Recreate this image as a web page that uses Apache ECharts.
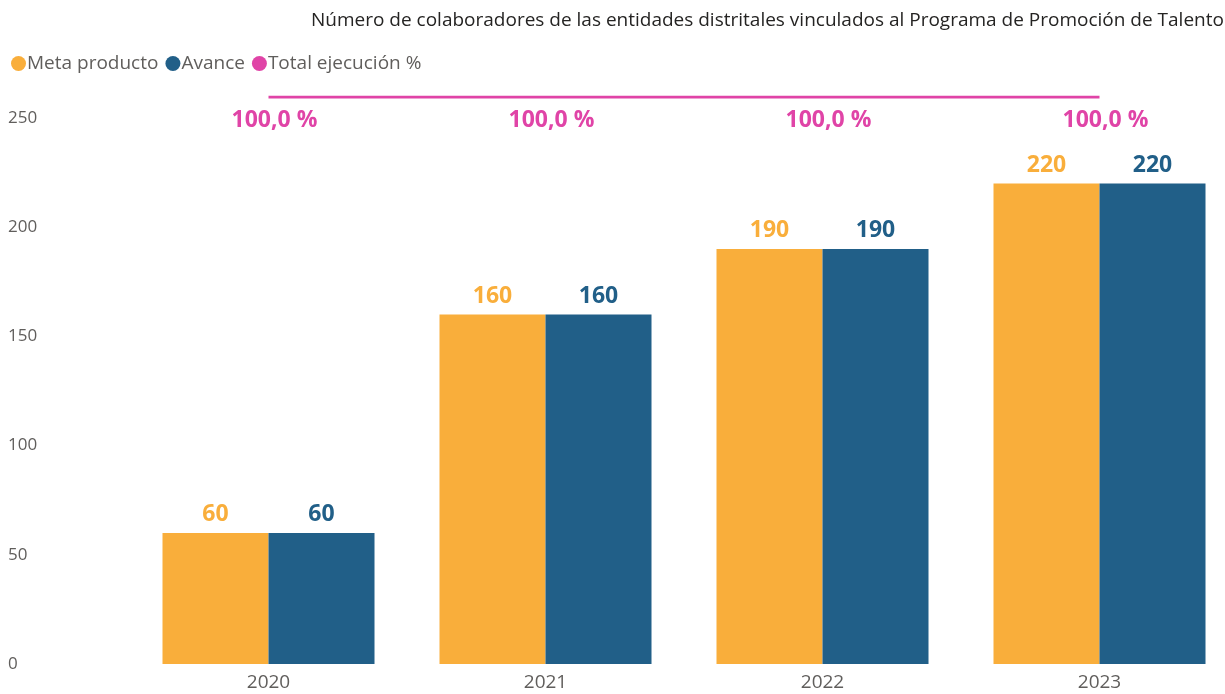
<!DOCTYPE html>
<html>
<head>
<meta charset="utf-8">
<script src="https://cdn.jsdelivr.net/npm/echarts@6/dist/echarts.min.js"></script>
<style>
  html, body { margin: 0; padding: 0; background: #fff; overflow: hidden; }
  /* the source picture is cut off on the right, so the chart is a bit wider than the window */
  #main { width: 1240px; height: 694px; }
</style>
</head>
<body>
<div id="main"></div>
<script>
  // data
  var years = ['2020', '2021', '2022', '2023'];
  var metaProducto = [60, 160, 190, 220];
  var avance = [60, 160, 190, 220];
  var totalEjecucion = [100, 100, 100, 100];

  var orange = '#F9AE3B';
  var blue = '#215F88';
  var pink = '#E044A7';
  var grey = '#605E5C';
  var font = '"Open Sans", "Noto Sans", sans-serif';

  var myChart = echarts.init(document.getElementById('main'));
  myChart.setOption({
    textStyle: { fontFamily: font },
    title: {
      text: 'Número de colaboradores de las entidades distritales vinculados al Programa de Promoción de Talento Humano',
      left: 306,
      top: 6,
      textStyle: { fontSize: 19, fontWeight: 'normal', color: '#252423', fontFamily: font }
    },
    legend: {
      data: ['Meta producto', 'Avance', 'Total ejecución %'],
      left: 6,
      top: 49,
      icon: 'circle',
      itemWidth: 15,
      itemHeight: 15,
      itemGap: 7,
      textStyle: { fontSize: 19, color: grey, padding: [0, 0, 0, -4] }
    },
    grid: {
      left: 130,
      top: 97,
      width: 1108,
      bottom: 30,
      containLabel: false
    },
    xAxis: [{
      type: 'category',
      data: years,
      axisLine: { show: false },
      axisTick: { show: false },
      axisLabel: { fontSize: 19, color: grey, margin: 9 }
    }],
    yAxis: [
      {
        type: 'value',
        min: 0,
        max: 259.6,
        interval: 50,
        splitLine: { show: false },
        axisLabel: { fontSize: 17, color: grey, align: 'left', margin: 122, showMaxLabel: false }
      },
      {
        type: 'value',
        min: 0,
        max: 100,
        show: false,
        splitLine: { show: false }
      }
    ],
    series: [
      {
        name: 'Meta producto',
        type: 'bar',
        barWidth: 106,
        barGap: '0%',
        itemStyle: { color: orange },
        label: {
          show: true, position: 'top', distance: 7,
          fontSize: 23, fontWeight: 'bold', color: orange
        },
        data: metaProducto
      },
      {
        name: 'Avance',
        type: 'bar',
        barWidth: 106,
        barGap: '0%',
        itemStyle: { color: blue },
        label: {
          show: true, position: 'top', distance: 7,
          fontSize: 23, fontWeight: 'bold', color: blue
        },
        data: avance
      },
      {
        name: 'Total ejecución %',
        type: 'line',
        yAxisIndex: 1,
        symbol: 'circle',
        symbolSize: 0,
        showSymbol: true,
        lineStyle: { color: pink, width: 3 },
        itemStyle: { color: pink },
        label: {
          show: true, position: 'bottom', distance: 12, offset: [6, 0],
          fontSize: 23, fontWeight: 'bold', color: pink,
          formatter: function (p) { return p.value.toFixed(1).replace('.', ',') + ' %'; }
        },
        data: totalEjecucion
      }
    ]
  });
</script>
</body>
</html>
